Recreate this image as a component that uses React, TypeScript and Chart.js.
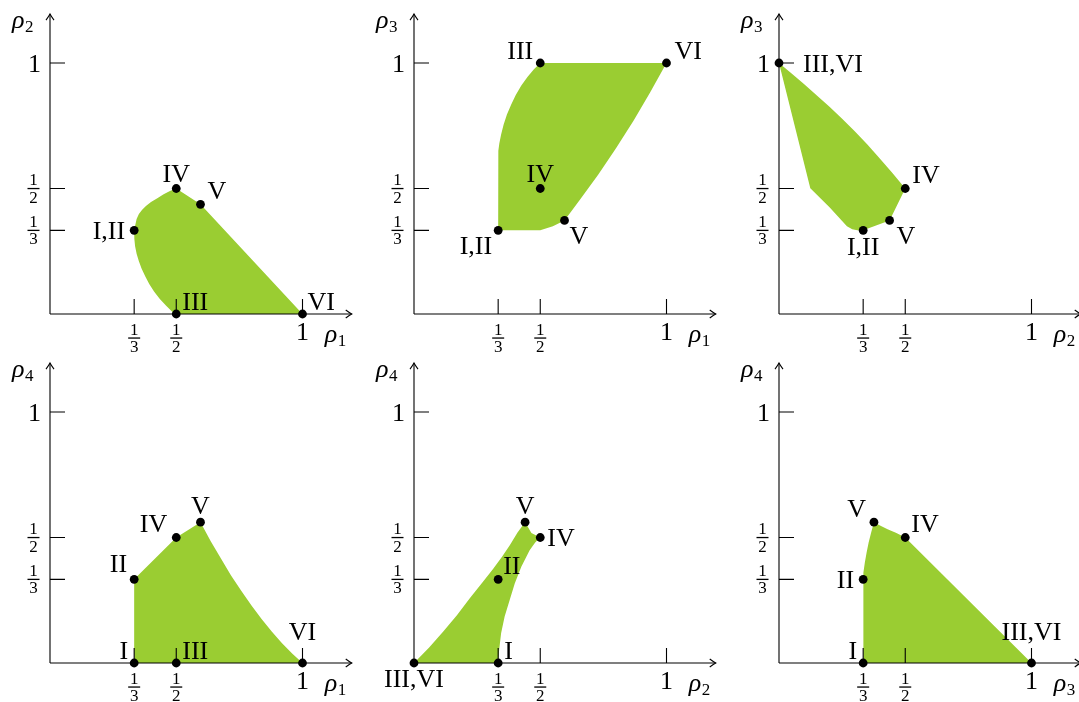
import React, { useEffect, useRef } from "react";
import { Chart, registerables } from "chart.js";

Chart.register(...registerables);

// ---------- shared axis data ----------
const tickValues = [1 / 3, 1 / 2, 1];
const tickLabels = ["1/3", "1/2", "1"];
const AXIS_END = 1.195;

// ---------- panel (ρ1, ρ2) ----------
const p1Names = ["I,II", "IV", "V", "III", "VI"];
const p1X = [1 / 3, 1 / 2, 0.596, 1 / 2, 1];
const p1Y = [1 / 3, 1 / 2, 0.437, 0, 0];
const p1RegionX = [
  0.5, 1, 0.596, 0.5, 0.475, 0.45, 0.425, 0.4, 0.38, 0.365, 0.352, 0.343, 0.338, 1 / 3,
  0.334, 0.337, 0.343, 0.352, 0.363, 0.377, 0.393, 0.412, 0.435, 0.46, 0.488, 0.5,
];
const p1RegionY = [
  0, 0, 0.437, 0.5, 0.49, 0.477, 0.461, 0.446, 0.43, 0.415, 0.398, 0.378, 0.356, 1 / 3,
  0.3, 0.27, 0.24, 0.21, 0.18, 0.15, 0.12, 0.09, 0.06, 0.033, 0.005, 0,
];

// ---------- panel (ρ1, ρ3) ----------
const p2Names = ["III", "VI", "IV", "V", "I,II"];
const p2X = [1 / 2, 1, 1 / 2, 0.596, 1 / 3];
const p2Y = [1, 1, 1 / 2, 0.373, 1 / 3];
const p2RegionX = [
  1 / 3, 0.5, 0.55, 0.596, 0.66, 0.73, 0.8, 0.87, 0.935, 1, 0.5,
  0.475, 0.45, 0.425, 0.403, 0.385, 0.368, 0.355, 0.345, 0.338, 0.334, 1 / 3, 1 / 3,
];
const p2RegionY = [
  1 / 3, 1 / 3, 0.35, 0.373, 0.459, 0.556, 0.66, 0.771, 0.882, 1, 1,
  0.975, 0.945, 0.91, 0.873, 0.835, 0.795, 0.755, 0.715, 0.68, 0.65, 0.63, 1 / 3,
];

// ---------- panel (ρ2, ρ3) ----------
const p3Names = ["III,VI", "IV", "V", "I,II"];
const p3X = [0, 1 / 2, 0.438, 1 / 3];
const p3Y = [1, 1 / 2, 0.373, 1 / 3];
const p3RegionX = [
  0, 0.124, 0.2, 0.269, 0.29, 0.31, 1 / 3, 0.438, 0.5,
  0.45, 0.4, 0.35, 0.3, 0.25, 0.2, 0.15, 0.1, 0.05, 0,
];
const p3RegionY = [
  1, 0.501, 0.425, 0.35, 0.338, 0.334, 1 / 3, 0.373, 0.5,
  0.561, 0.619, 0.675, 0.728, 0.778, 0.826, 0.871, 0.915, 0.958, 1,
];

// ---------- panel (ρ1, ρ4) ----------
const p4Names = ["I", "III", "VI", "II", "IV", "V"];
const p4X = [1 / 3, 1 / 2, 1, 1 / 3, 1 / 2, 0.596];
const p4Y = [0, 0, 0, 1 / 3, 1 / 2, 0.561];
const p4RegionX = [1 / 3, 1 / 3, 0.5, 0.596, 0.636, 0.677, 0.717, 0.758, 0.798, 0.838, 0.879, 0.919, 0.96, 1, 1 / 3];
const p4RegionY = [0, 1 / 3, 0.5, 0.561, 0.486, 0.416, 0.349, 0.287, 0.229, 0.175, 0.125, 0.079, 0.037, 0, 0];

// ---------- panel (ρ2, ρ4) ----------
const p5Names = ["III,VI", "I", "II", "IV", "V"];
const p5X = [0, 1 / 3, 1 / 3, 1 / 2, 0.44];
const p5Y = [0, 0, 1 / 3, 1 / 2, 0.561];
const p5RegionX = [
  0, 1 / 3, 0.337, 0.345, 0.359, 0.379, 0.399, 0.425, 0.458, 0.48, 0.5, 0.465, 0.44,
  0.41, 0.38, 0.35, 0.313, 0.27, 0.221, 0.17, 0.115, 0.06, 0,
];
const p5RegionY = [
  0, 0, 0.05, 0.119, 0.185, 0.251, 0.317, 0.383, 0.449, 0.48, 0.5, 0.518, 0.561,
  0.52, 0.47, 0.425, 0.375, 0.32, 0.258, 0.19, 0.125, 0.062, 0,
];

// ---------- panel (ρ3, ρ4) ----------
const p6Names = ["I", "II", "V", "IV", "III,VI"];
const p6X = [1 / 3, 1 / 3, 0.376, 1 / 2, 1];
const p6Y = [0, 1 / 3, 0.561, 1 / 2, 0];
const p6RegionX = [1 / 3, 1 / 3, 0.335, 0.34, 0.347, 0.355, 0.365, 0.376, 0.4, 0.43, 0.465, 0.5, 1, 1 / 3];
const p6RegionY = [0, 1 / 3, 0.36, 0.4, 0.44, 0.48, 0.52, 0.561, 0.548, 0.533, 0.518, 0.5, 0, 0];

// ---------- styling ----------
const FILL = "#9acd32";
const INK = "#000";
const SERIF = '"Liberation Serif", "Times New Roman", serif';
const LABEL_FONT = 26;
const FRAC_FONT = 17;
const CAP = 0.66;

// vertex label placement: anchor (l = text starts, r = text ends, c = centred), dx, dy in px
type Place = ["l" | "r" | "c", number, number];
const p1Place: Place[] = [["r", -9, 0], ["c", 0, -15.5], ["l", 7, -14], ["l", 6, -12.5], ["l", 5, -12.5]];
const p2Place: Place[] = [["r", -7, -13], ["l", 8, -13], ["c", 0, -15.5], ["l", 5, 15], ["r", -6, 15.5]];
const p3Place: Place[] = [["l", 24, 0], ["l", 7, -14], ["l", 7, 15], ["c", 0, 16]];
const p4Place: Place[] = [["r", -6, -12.5], ["l", 6, -12.5], ["c", 0, -31.5], ["r", -7, -16], ["r", -9, -14], ["c", 0, -16.5]];
const p5Place: Place[] = [["c", 0, 15], ["l", 6, -13], ["l", 5, -14], ["l", 7, 0], ["c", 0, -16.5]];
const p6Place: Place[] = [["r", -6, -12.5], ["r", -9, 0], ["r", -8, -14], ["l", 6, -14], ["c", 0, -31.5]];

interface PanelSpec {
  xTitle: string;
  yTitle: string;
  names: string[];
  xs: number[];
  ys: number[];
  regionX: number[];
  regionY: number[];
  place: Place[];
}

const panels: PanelSpec[] = [
  { xTitle: "ρ1", yTitle: "ρ2", names: p1Names, xs: p1X, ys: p1Y, regionX: p1RegionX, regionY: p1RegionY, place: p1Place },
  { xTitle: "ρ1", yTitle: "ρ3", names: p2Names, xs: p2X, ys: p2Y, regionX: p2RegionX, regionY: p2RegionY, place: p2Place },
  { xTitle: "ρ2", yTitle: "ρ3", names: p3Names, xs: p3X, ys: p3Y, regionX: p3RegionX, regionY: p3RegionY, place: p3Place },
  { xTitle: "ρ1", yTitle: "ρ4", names: p4Names, xs: p4X, ys: p4Y, regionX: p4RegionX, regionY: p4RegionY, place: p4Place },
  { xTitle: "ρ2", yTitle: "ρ4", names: p5Names, xs: p5X, ys: p5Y, regionX: p5RegionX, regionY: p5RegionY, place: p5Place },
  { xTitle: "ρ3", yTitle: "ρ4", names: p6Names, xs: p6X, ys: p6Y, regionX: p6RegionX, regionY: p6RegionY, place: p6Place },
];

// ---------- drawing helpers ----------
function drawArrowHead(ctx: CanvasRenderingContext2D, x: number, y: number, dir: "up" | "right") {
  ctx.beginPath();
  if (dir === "up") {
    ctx.moveTo(x - 4, y + 6);
    ctx.quadraticCurveTo(x - 1, y + 2, x, y);
    ctx.quadraticCurveTo(x + 1, y + 2, x + 4, y + 6);
  } else {
    ctx.moveTo(x - 6, y - 4);
    ctx.quadraticCurveTo(x - 2, y - 1, x, y);
    ctx.quadraticCurveTo(x - 2, y + 1, x - 6, y + 4);
  }
  ctx.stroke();
}

function drawTickLabel(ctx: CanvasRenderingContext2D, label: string, cx: number, barY: number, align: "center" | "right") {
  const parts = label.split("/");
  if (parts.length === 2) {
    ctx.font = `${FRAC_FONT}px ${SERIF}`;
    const w = 12;
    const left = align === "center" ? cx - w / 2 : cx - w;
    const mid = left + w / 2;
    ctx.textAlign = "center";
    ctx.textBaseline = "alphabetic";
    ctx.fillText(parts[0], mid, barY - 3.5);
    ctx.fillText(parts[1], mid, barY + 14);
    ctx.fillRect(left, barY - 0.6, w, 1.3);
  } else {
    ctx.font = `${LABEL_FONT}px ${SERIF}`;
    ctx.textAlign = align;
    ctx.textBaseline = "alphabetic";
    ctx.fillText(label, cx, barY);
  }
}

function drawSymbol(ctx: CanvasRenderingContext2D, text: string, x: number, baseline: number) {
  const main = text.slice(0, 1);
  const sub = text.slice(1);
  ctx.textAlign = "left";
  ctx.textBaseline = "alphabetic";
  ctx.font = `italic ${LABEL_FONT}px ${SERIF}`;
  ctx.fillText(main, x, baseline);
  const w = ctx.measureText(main).width;
  ctx.font = `${FRAC_FONT}px ${SERIF}`;
  ctx.fillText(sub, x + w + 0.5, baseline + 4);
}

function makeAxesPlugin(spec: PanelSpec) {
  return {
    id: "panelAxes",
    afterDatasetDraw(chart: any, args: any) {
      if (args.index !== 1) return;
      const ctx: CanvasRenderingContext2D = chart.ctx;
      const xs = chart.scales.x;
      const ys = chart.scales.y;
      const ox = xs.getPixelForValue(0);
      const oy = ys.getPixelForValue(0);
      const ex = xs.getPixelForValue(AXIS_END);
      const ey = ys.getPixelForValue(AXIS_END);
      ctx.save();
      ctx.strokeStyle = INK;
      ctx.fillStyle = INK;
      ctx.lineWidth = 1.1;
      ctx.lineCap = "butt";
      ctx.beginPath();
      ctx.moveTo(ox, oy);
      ctx.lineTo(ex, oy);
      ctx.moveTo(ox, oy);
      ctx.lineTo(ox, ey);
      ctx.stroke();
      drawArrowHead(ctx, ex, oy, "right");
      drawArrowHead(ctx, ox, ey, "up");
      ctx.beginPath();
      tickValues.forEach((v) => {
        const px = xs.getPixelForValue(v);
        ctx.moveTo(px, oy);
        ctx.lineTo(px, oy - 15);
        const py = ys.getPixelForValue(v);
        ctx.moveTo(ox, py);
        ctx.lineTo(ox + 15, py);
      });
      ctx.stroke();
      tickValues.forEach((v, i) => {
        const label = tickLabels[i];
        const px = xs.getPixelForValue(v);
        const py = ys.getPixelForValue(v);
        if (label.includes("/")) {
          drawTickLabel(ctx, label, px, oy + 24, "center");
          drawTickLabel(ctx, label, ox - 10.5, py, "right");
        } else {
          drawTickLabel(ctx, label, px, oy + 26, "center");
          drawTickLabel(ctx, label, ox - 9, py + (LABEL_FONT * CAP) / 2, "right");
        }
      });
      drawSymbol(ctx, spec.xTitle, ex - 27, oy + 28);
      drawSymbol(ctx, spec.yTitle, ox - 38, ey + 14);
      ctx.restore();
    },
  };
}

function makeLabelPlugin(spec: PanelSpec) {
  return {
    id: "vertexLabels",
    afterDatasetsDraw(chart: any) {
      const ctx: CanvasRenderingContext2D = chart.ctx;
      const xs = chart.scales.x;
      const ys = chart.scales.y;
      ctx.save();
      ctx.fillStyle = INK;
      ctx.font = `${LABEL_FONT}px ${SERIF}`;
      ctx.textBaseline = "alphabetic";
      spec.names.forEach((name, i) => {
        const [anchor, dx, dy] = spec.place[i];
        const px = xs.getPixelForValue(spec.xs[i]);
        const py = ys.getPixelForValue(spec.ys[i]);
        ctx.textAlign = anchor === "l" ? "left" : anchor === "r" ? "right" : "center";
        ctx.fillText(name, px + dx, py + dy + (LABEL_FONT * CAP) / 2);
      });
      ctx.restore();
    },
  };
}

// ---------- layout ----------
const COL_LEFT = [0, 364, 729];
const ROW_TOP = [0, 349];
const UNIT_X = 252.5;
const UNIT_Y = 251;
const ORIGIN_X = 50;
const ORIGIN_Y = 314;

function Panel({ spec, col, row }: { spec: PanelSpec; col: number; row: number }) {
  const ref = useRef<HTMLCanvasElement>(null);
  const width = col < 2 ? 364 : 1079 - COL_LEFT[2];
  const height = row === 0 ? 362 : 702 - ROW_TOP[1];

  useEffect(() => {
    const canvas = ref.current;
    if (!canvas) return;
    const chart = new Chart(canvas, {
      type: "scatter",
      data: {
        datasets: [
          {
            type: "scatter",
            data: spec.xs.map((x, i) => ({ x, y: spec.ys[i] })),
            pointRadius: 4.4,
            pointBackgroundColor: INK,
            pointBorderWidth: 0,
            pointBorderColor: INK,
            clip: false,
            order: 0,
          } as any,
          {
            type: "line",
            data: spec.regionX.map((x, i) => ({ x, y: spec.regionY[i] })),
            fill: "shape",
            backgroundColor: FILL,
            borderColor: "rgba(0,0,0,0)",
            borderWidth: 0,
            pointRadius: 0,
            tension: 0,
            clip: false,
            order: 1,
          } as any,
        ],
      },
      options: {
        responsive: false,
        maintainAspectRatio: false,
        animation: false,
        events: [],
        devicePixelRatio: 1,
        layout: {
          padding: {
            left: ORIGIN_X,
            top: ORIGIN_Y - UNIT_Y,
            right: width - ORIGIN_X - UNIT_X,
            bottom: height - ORIGIN_Y,
          },
        },
        scales: {
          x: { type: "linear", min: 0, max: 1, display: false },
          y: { type: "linear", min: 0, max: 1, display: false },
        },
        plugins: {
          legend: { display: false },
          tooltip: { enabled: false },
        },
      },
      plugins: [makeAxesPlugin(spec), makeLabelPlugin(spec)],
    });
    return () => chart.destroy();
  }, [spec, width, height]);

  return (
    <canvas
      ref={ref}
      width={width}
      height={height}
      style={{ position: "absolute", left: COL_LEFT[col], top: ROW_TOP[row], width, height }}
    />
  );
}

export default function App() {
  return (
    <div style={{ position: "fixed", left: 0, top: 0, width: 1079, height: 702, background: "#fff", overflow: "hidden" }}>
      {panels.map((spec, i) => (
        <Panel key={i} spec={spec} col={i % 3} row={Math.floor(i / 3)} />
      ))}
    </div>
  );
}
